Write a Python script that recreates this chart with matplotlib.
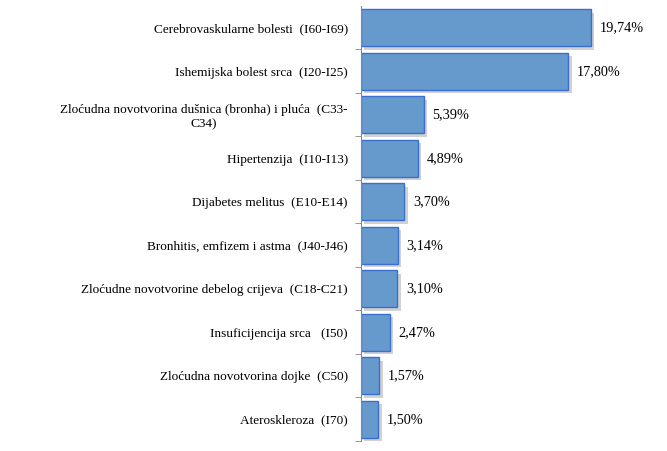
import matplotlib
matplotlib.use("Agg")
import matplotlib.pyplot as plt
import matplotlib.patheffects as pe
import numpy as np

categories = [
    "Cerebrovaskularne bolesti  (I60-I69)",
    "Ishemijska bolest srca  (I20-I25)",
    "Zloćudna novotvorina dušnica (bronha) i pluća  (C33-\nC34)",
    "Hipertenzija  (I10-I13)",
    "Dijabetes melitus  (E10-E14)",
    "Bronhitis, emfizem i astma  (J40-J46)",
    "Zloćudne novotvorine debelog crijeva  (C18-C21)",
    "Insuficijencija srca   (I50)",
    "Zloćudna novotvorina dojke  (C50)",
    "Ateroskleroza  (I70)",
]
values = [19.74, 17.80, 5.39, 4.89, 3.70, 3.14, 3.10, 2.47, 1.57, 1.50]
value_labels = ["19,74%", "17,80%", "5,39%", "4,89%", "3,70%", "3,14%", "3,10%", "2,47%", "1,57%", "1,50%"]

plt.rcParams['font.family'] = ['Liberation Serif', 'DejaVu Serif']

fig = plt.figure(figsize=(6.67, 4.51), dpi=100)
ax = fig.add_axes([361/667, 1-441/451, 1-361/667-0.01, 435/451])

y = np.arange(len(categories))
bars = ax.barh(y, values, height=0.86, color='#6699CC', edgecolor='#3A6FD0', linewidth=1.0)
for b in bars:
    b.set_path_effects([pe.SimplePatchShadow(offset=(2.5, -2.5), shadow_rgbFace='#999999', alpha=0.45), pe.Normal()])

ax.set_ylim(len(categories) - 0.5, -0.5)
ax.set_xlim(0, 25.7)

for yi, v, lab in zip(y, values, value_labels):
    ax.text(v + 0.75, yi, lab, va='center', ha='left', fontsize=10.3)

ax.set_yticks(y)
ax.set_yticklabels(categories, fontsize=9.5, multialignment='center', linespacing=1.25)
ax.set_yticks(np.arange(0.5, len(categories)), minor=True)
ax.tick_params(axis='y', which='major', length=0, pad=9.5)
ax.tick_params(axis='y', which='minor', length=4, color='#888888', direction='out')
ax.set_xticks([])
for s in ['top', 'right', 'bottom']:
    ax.spines[s].set_visible(False)
ax.spines['left'].set_color('#888888')

fig.savefig('out.png', dpi=100)
